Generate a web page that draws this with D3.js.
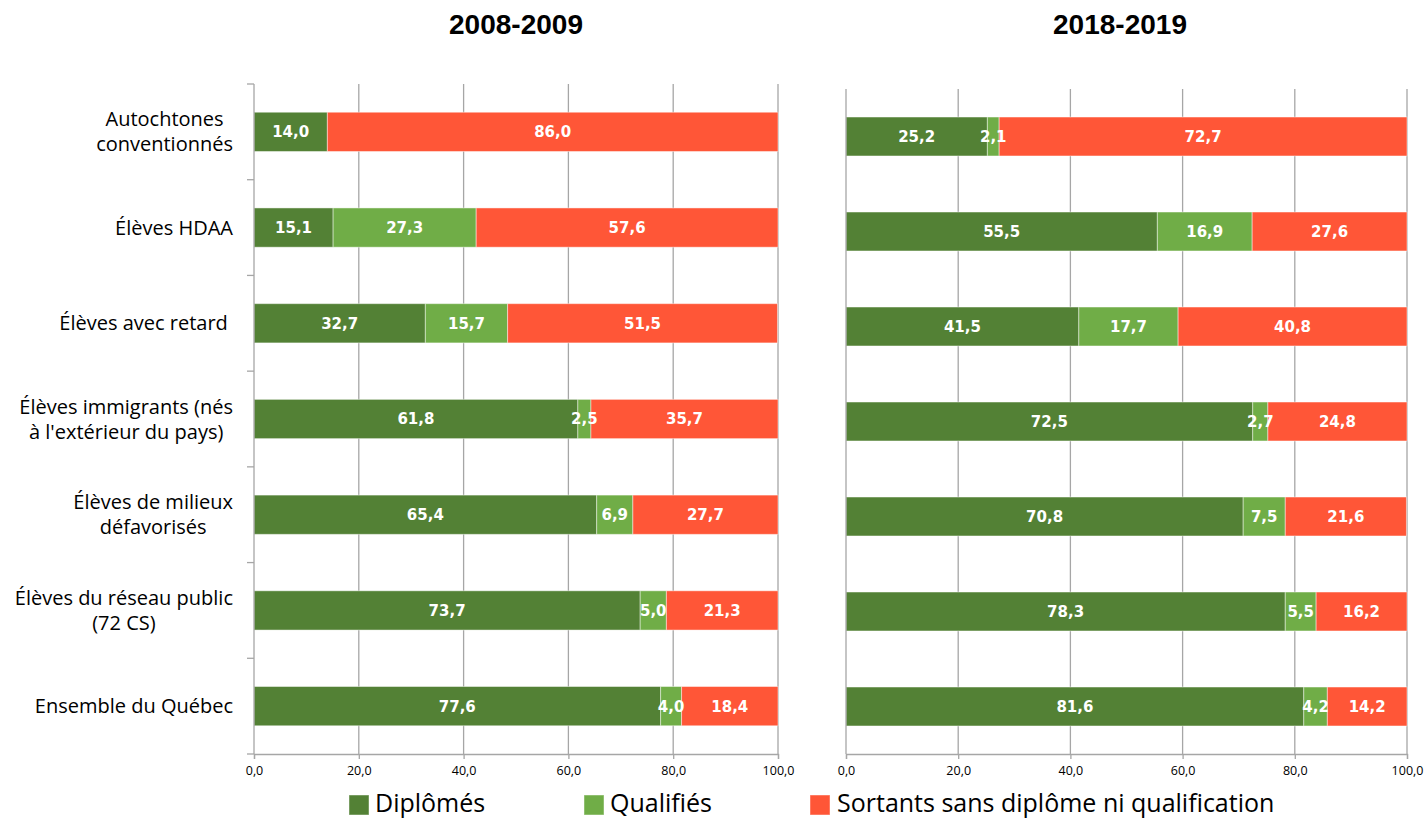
<!DOCTYPE html>
<html><head><meta charset="utf-8">
<script src="https://cdn.jsdelivr.net/npm/d3@7/dist/d3.min.js"></script>
<style>
body{margin:0;background:#fff;}
svg{display:block;}
</style></head>
<body>
<svg id="chart" width="1428" height="820"></svg>
<script>
const categories = [
  ["Autochtones", "conventionnés"],
  ["Élèves HDAA"],
  ["Élèves avec retard "],
  ["Élèves immigrants (nés", "à l'extérieur du pays)"],
  ["Élèves de milieux", "défavorisés"],
  ["Élèves du réseau public", "(72 CS)"],
  ["Ensemble du Québec"]
];
const seriesNames = ["Diplômés", "Qualifiés", "Sortants sans diplôme ni qualification"];
const panelTitles = ["2008-2009", "2018-2019"];
const diplomes2008 = [14.0, 15.1, 32.7, 61.8, 65.4, 73.7, 77.6];
const qualifies2008 = [null, 27.3, 15.7, 2.5, 6.9, 5.0, 4.0];
const sortants2008 = [86.0, 57.6, 51.5, 35.7, 27.7, 21.3, 18.4];
const diplomes2018 = [25.2, 55.5, 41.5, 72.5, 70.8, 78.3, 81.6];
const qualifies2018 = [2.1, 16.9, 17.7, 2.7, 7.5, 5.5, 4.2];
const sortants2018 = [72.7, 27.6, 40.8, 24.8, 21.6, 16.2, 14.2];
const xTicks = [0, 20, 40, 60, 80, 100];

const colors = ["#538135", "#70AD47", "#FF5637"];
const svg = d3.select("#chart");
const fmt = v => v.toFixed(1).replace(".", ",");

const panels = [
  {title: panelTitles[0], titleX: 516, x0: 254, x1: 778, y0: 84, y1: 754, data: [diplomes2008, qualifies2008, sortants2008], yLabels: true},
  {title: panelTitles[1], titleX: 1120, x0: 846, x1: 1407, y0: 89, y1: 754, data: [diplomes2018, qualifies2018, sortants2018], yLabels: false}
];

panels.forEach(p => {
  const x = d3.scaleLinear().domain([0, 100]).range([p.x0, p.x1]);
  const y = d3.scaleBand().domain(d3.range(categories.length)).range([p.y0, p.y1]).paddingInner(0.59).paddingOuter(0.295);
  const yb = d3.scaleBand().domain(d3.range(categories.length)).range([p.y0, p.y1]);
  const g = svg.append("g");

  // title
  svg.append("text").attr("x", p.titleX).attr("y", 34).attr("text-anchor", "middle")
    .attr("font-family", "Liberation Sans, Arial, sans-serif").attr("font-weight", "bold")
    .attr("font-size", 28).attr("fill", "#000").text(p.title);

  // gridlines
  g.append("g").selectAll("line").data(xTicks.slice(1)).join("line")
    .attr("x1", d => x(d)).attr("x2", d => x(d)).attr("y1", p.y0).attr("y2", p.y1)
    .attr("stroke", "#a6a6a6").attr("stroke-width", 1.3);

  // x axis
  const xa = g.append("g").attr("transform", `translate(0,${p.y1})`)
    .call(d3.axisBottom(x).tickValues(xTicks).tickSize(5).tickFormat(fmt));
  xa.select(".domain").attr("stroke", "#a6a6a6").attr("stroke-width", 1.3);
  xa.selectAll(".tick line").attr("stroke", "#a6a6a6").attr("stroke-width", 1.3);
  xa.selectAll(".tick text").attr("font-family", "Open Sans, sans-serif").attr("font-size", 12.5)
    .attr("fill", "#000").attr("dy", "1.05em");

  // bars
  const stacked = categories.map((c, i) => {
    let acc = 0;
    return p.data.map((s, k) => {
      const v = s[i] || 0;
      const r = {k, i, start: acc, end: acc + v, v: s[i]};
      acc += v;
      return r;
    });
  }).flat().filter(d => d.v != null);

  g.append("g").selectAll("rect").data(stacked).join("rect")
    .attr("x", d => x(d.start)).attr("width", d => x(d.end) - x(d.start))
    .attr("y", d => y(d.i)).attr("height", y.bandwidth())
    .attr("fill", d => colors[d.k])
    .attr("stroke", "rgba(255,255,255,0.45)").attr("stroke-width", 1);

  g.append("g").selectAll("text").data(stacked).join("text")
    .attr("x", d => x((d.start + d.end) / 2)).attr("y", d => y(d.i) + y.bandwidth() / 2)
    .attr("dy", "0.36em").attr("text-anchor", "middle")
    .attr("font-family", "DejaVu Sans, sans-serif").attr("font-weight", "bold").attr("font-size", 15)
    .attr("fill", "#fff").text(d => fmt(d.v));

  // y axis line
  g.append("line").attr("x1", p.x0).attr("x2", p.x0).attr("y1", p.y0).attr("y2", p.y1)
    .attr("stroke", "#a6a6a6").attr("stroke-width", 1.3);

  if (p.yLabels) {
    const bounds = d3.range(categories.length + 1).map(i => p.y0 + i * yb.step());
    g.append("g").selectAll("line").data(bounds).join("line")
      .attr("x1", p.x0 - 7).attr("x2", p.x0).attr("y1", d => d).attr("y2", d => d)
      .attr("stroke", "#a6a6a6").attr("stroke-width", 1.3);

    categories.forEach((lines, i) => {
      const cy = y(i) + y.bandwidth() / 2;
      const lh = 25;
      const t = g.append("g");
      const texts = lines.map((ln, j) => t.append("text")
        .attr("y", cy + (j - (lines.length - 1) / 2) * lh).attr("dy", "0.35em")
        .attr("text-anchor", "middle").style("white-space", "pre")
        .attr("font-family", "Open Sans, sans-serif").attr("font-size", 20).attr("fill", "#000").text(ln));
      const maxW = d3.max(texts, tx => tx.node().getComputedTextLength());
      texts.forEach(tx => tx.attr("x", 233 - maxW / 2));
    });
  }
});

// legend
const legendItems = [{x: 349, tx: 375}, {x: 584, tx: 610}, {x: 810, tx: 837}];
const lg = svg.append("g");
seriesNames.forEach((n, k) => {
  lg.append("rect").attr("x", legendItems[k].x).attr("y", 795).attr("width", 20).attr("height", 20)
    .attr("fill", colors[k]).attr("stroke", "rgba(255,255,255,0.45)");
  lg.append("text").attr("x", legendItems[k].tx).attr("y", 812)
    .attr("font-family", "Open Sans, sans-serif").attr("font-size", 25).attr("fill", "#000").text(n);
});
</script>
</body></html>
